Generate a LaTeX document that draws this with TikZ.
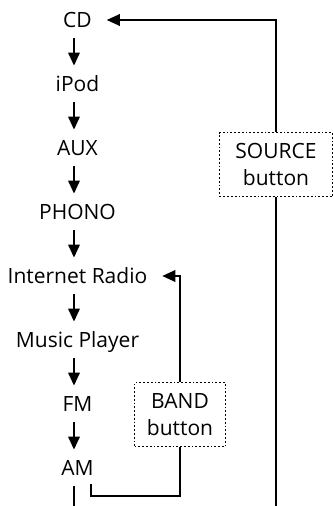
\documentclass[tikz,border=0pt]{standalone}
\usepackage{fontspec}
\setmainfont{Open Sans}
\usetikzlibrary{arrows.meta, positioning}

\begin{document}
\begin{tikzpicture}[x=1pt, y=1pt, >={Triangle[length=13pt, width=11.5pt]}, line width=2pt, node distance=64pt]
    \tikzstyle{mode}=[font=\fontsize{21}{25}\selectfont, text height=14.8pt, text depth=0pt, inner xsep=14pt, inner ysep=10pt]
    \tikzstyle{button}=[draw, dotted, line width=1.8pt, font=\fontsize{21}{27.5}\selectfont, align=center, minimum height=64pt, inner sep=0pt]

    \useasboundingbox (0,0) rectangle (334,-506);

    \node[mode]     (CD)     at (77.5,-20)      {CD};
    \node[mode]     (iPod)   [below of=CD]      {iPod};
    \node[mode]     (AUX)    [below of=iPod]    {AUX};
    \node[mode]     (PHONO)  [below of=AUX]     {PHONO};
    \node[mode]     (Radio)  [below of=PHONO]   {Internet Radio};
    \node[mode]     (Player) [below of=Radio]   {Music Player};
    \node[mode]     (FM)     [below of=Player]  {FM};
    \node[mode]     (AM)     [below of=FM]      {AM};

    \node[button, minimum width=113pt] (SOURCE) at (276,-164.5) {SOURCE\\button};
    \node[button, minimum width=91pt]  (BAND)   at (180,-414.5) {BAND\\button};

    \coordinate (bandin) at (91,-483.5);
    \coordinate (AMout)  at (74,-506);

    % order of the sources
    \foreach \from/\to in {CD/iPod, iPod/AUX, AUX/PHONO, PHONO/Radio, Radio/Player, Player/FM, FM/AM}
        \draw[->] ([xshift=-3.5pt]\from.south) -- ([xshift=-3.5pt]\to.north);
    \draw ([xshift=-3.5pt]AM.south) -- (AMout);

    % SOURCE button loop
    \draw[->] (SOURCE.north) |- (CD.east);
    \draw (SOURCE.south) -- (SOURCE.south |- AMout);

    % BAND button loop
    \draw[->] (BAND.north) |- (Radio.east);
    \draw (BAND.south) -- ([yshift=-12.5pt]BAND.south |- bandin) -| (bandin);
\end{tikzpicture}
\end{document}
